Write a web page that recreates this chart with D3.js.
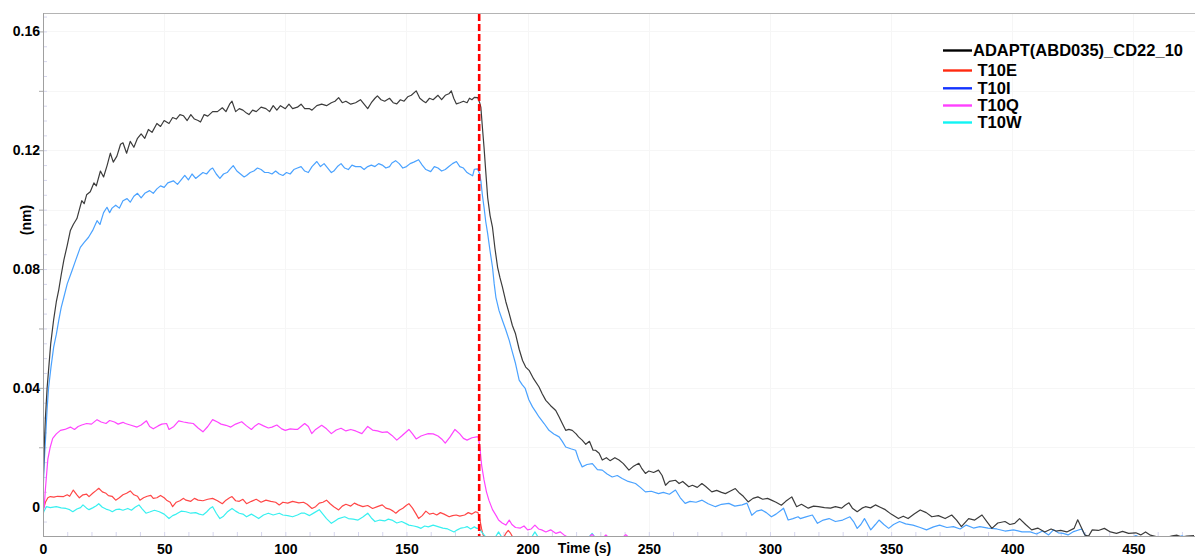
<!DOCTYPE html>
<html>
<head>
<meta charset="utf-8">
<title>Sensorgram</title>
<script src="https://cdn.jsdelivr.net/npm/d3@7"></script>
<style>
    html, body { margin: 0; padding: 0; background: #fff; }
    #chart svg { display: block; }
    #chart text { font-family: Arial, "Liberation Sans", sans-serif; font-weight: bold; fill: #000; }
</style>
</head>
<body>
<div id="chart"></div>
<script>
// Readings: [time (s), response (nm)]
const adaptTrace = [
    [0, 0.006], [0.5, 0.02], [1, 0.03], [1.7, 0.04], [2.5, 0.048], [3.2, 0.055], [4.4, 0.063], [5.5, 0.069],
    [6.5, 0.073], [7.5, 0.078], [8.6, 0.083], [10, 0.088], [11.3, 0.093], [12.5, 0.095], [14, 0.097], [15, 0.1],
    [16, 0.103], [17, 0.102], [18, 0.105], [19.5, 0.106], [21, 0.109], [22, 0.108], [23.7, 0.113], [25, 0.111],
    [26.5, 0.115], [27.8, 0.119], [29, 0.116], [30.5, 0.118], [32, 0.122], [33, 0.1225], [34.5, 0.119], [36, 0.123],
    [37.5, 0.121], [39, 0.124], [40.5, 0.1255], [42, 0.124], [43.5, 0.127], [45, 0.126], [47, 0.129], [48.5, 0.128],
    [50, 0.13], [52, 0.129], [53.5, 0.131], [55, 0.1305], [56.5, 0.132], [58, 0.1316], [59.5, 0.13], [61, 0.132],
    [62.5, 0.1305], [64, 0.13], [65, 0.1295], [66.5, 0.132], [68, 0.1315], [70, 0.133], [72, 0.133], [74, 0.1343],
    [75.5, 0.133], [77, 0.1355], [78, 0.1365], [79.5, 0.133], [81, 0.134], [82.5, 0.1335], [84, 0.1325], [85, 0.132],
    [86.5, 0.1335], [88, 0.133], [90, 0.1345], [92, 0.134], [93.5, 0.133], [95, 0.135], [96.5, 0.1335], [98, 0.135],
    [100, 0.134], [101.5, 0.1355], [103, 0.134], [105, 0.1345], [106.5, 0.1355], [108, 0.134], [110, 0.134], [111, 0.1335],
    [113, 0.135], [115, 0.1355], [117, 0.135], [119, 0.136], [120.5, 0.1365], [122, 0.1377], [123.5, 0.136], [125, 0.1365],
    [127, 0.1355], [129, 0.136], [131, 0.137], [132.5, 0.1355], [134, 0.134], [135.5, 0.136], [137, 0.1375], [138, 0.1383],
    [139.5, 0.137], [141, 0.1365], [143, 0.1375], [144.5, 0.136], [146, 0.1356], [147.5, 0.137], [149, 0.1365], [150.5, 0.138],
    [152, 0.1385], [154, 0.14], [155.5, 0.1375], [157, 0.1365], [158, 0.136], [159.5, 0.1375], [161, 0.137], [163, 0.1385],
    [164.5, 0.137], [166, 0.1385], [167.5, 0.139], [168.5, 0.14], [169.5, 0.1375], [170.6, 0.1356], [172, 0.136], [173.5, 0.1365],
    [175, 0.136], [176, 0.1375], [177, 0.137], [178, 0.1378], [179.4, 0.1377],
    [180.2, 0.136], [180.7, 0.1344], [181.3, 0.128], [182, 0.121], [182.7, 0.113], [183.5, 0.1041], [184.5, 0.098], [185.5, 0.094],
    [186.5, 0.087], [187.6, 0.0806], [188.6, 0.077], [189.6, 0.0739], [191, 0.069], [192.4, 0.065], [193.7, 0.061], [195, 0.0582],
    [196.5, 0.053], [197.9, 0.0492], [199.2, 0.047], [200.6, 0.0459], [202.5, 0.043], [204.7, 0.0403], [206, 0.038], [207.5, 0.0358],
    [209.5, 0.034], [211.6, 0.0324], [213, 0.0302], [214.3, 0.028], [215.7, 0.0257], [217, 0.026], [218.4, 0.0257], [220, 0.0245],
    [221, 0.0235], [222.5, 0.0224], [224, 0.021], [225.5, 0.022], [227, 0.019], [228, 0.019], [229.5, 0.018], [230.8, 0.0157],
    [232.5, 0.0165], [234, 0.0155], [236, 0.0165], [237.7, 0.0157], [239.5, 0.0145], [241.8, 0.0123], [243.5, 0.0135], [245.9, 0.0146],
    [247, 0.013], [248.6, 0.0112], [250, 0.012], [252, 0.0115], [254, 0.0123], [255.5, 0.0105], [256.9, 0.0072], [258.5, 0.0085],
    [261, 0.0089], [262.5, 0.0078], [264, 0.0085], [266.5, 0.0067], [268, 0.0072], [270, 0.0065], [271.9, 0.0078], [273.5, 0.0068],
    [276, 0.005], [278, 0.0055], [280, 0.0048], [281.6, 0.0044], [283.5, 0.0052], [285.7, 0.0061], [287.5, 0.0045], [289, 0.0035],
    [291, 0.0016], [293, 0.0028], [295, 0.0033], [297, 0.0025], [299, 0.0028], [300.6, 0.0022], [302.5, 0.0015], [304.7, 0.0005],
    [306.5, 0.0018], [309, 0.0033], [311, 0], [313, 0.0008], [315.8, -0.0005], [318, 0.0002], [320, 0], [322.5, -0.0003],
    [325, -0.0005], [327, 0], [329.6, -0.0005], [331, 0.0005], [332.6, 0.0013], [334, -0.0005], [336, -0.0017], [338, -0.0005],
    [339.4, 0], [341.5, -0.0004], [343.5, 0.0006], [345.5, -0.0002], [347.6, -0.001], [350, -0.0025], [353, -0.004], [355, -0.0032],
    [357, -0.004], [359.5, -0.0025], [362, -0.0011], [364.5, -0.002], [366.8, -0.0034], [369.5, -0.003], [372.3, -0.004], [375, -0.0028],
    [377, -0.0045], [379, -0.0067], [382, -0.004], [384.5, -0.0045], [387.5, -0.0028], [389.5, -0.005], [391.6, -0.0073], [394, -0.0055],
    [397, -0.005], [399, -0.006], [401, -0.0056], [403, -0.004], [405.5, -0.006], [408, -0.0078], [410.5, -0.0072], [413.4, -0.0085],
    [416, -0.0075], [418, -0.0082], [420, -0.008], [422.5, -0.0085], [425.5, -0.0073], [427, -0.0044], [428.5, -0.007], [430, -0.0096],
    [431.5, -0.0099], [433, -0.0078], [435.5, -0.008], [438, -0.0073], [440.5, -0.0085], [443, -0.009], [445.5, -0.0083], [448, -0.009],
    [451, -0.0088], [453, -0.0095], [455, -0.0085], [457, -0.0096], [460, -0.0102], [463, -0.0105], [466, -0.0098], [468, -0.0096],
    [470, -0.0102], [472, -0.0099], [475, -0.0097]
];

const t10eTrace = [
    [0, -0.0005], [0.5, 0], [1, 0.0015], [2, 0.003], [3, 0.0034], [4.5, 0.0032], [6, 0.0035], [8.5, 0.0034],
    [10, 0.004], [11, 0.0035], [12.5, 0.0056], [14, 0.004], [15, 0.003], [16.5, 0.004], [18, 0.0042], [19, 0.0034],
    [20.5, 0.0045], [22, 0.0055], [23, 0.0062], [24.5, 0.005], [26, 0.0045], [27, 0.0037], [28.5, 0.0035], [30, 0.0022],
    [31.5, 0.003], [33, 0.004], [34.5, 0.0045], [36, 0.0053], [37.5, 0.004], [39, 0.0035], [40, 0.0022], [41.5, 0.003],
    [43, 0.0035], [44.5, 0.0038], [45.5, 0.0028], [47, 0.003], [48.5, 0.0038], [50, 0.003], [51, 0.0022], [52.5, 0.0015],
    [53.5, 0], [55, 0.0015], [56.5, 0.002], [58, 0.0028], [59, 0.0022], [61, 0.0018], [62.5, 0.0028], [64, 0.0022],
    [66, 0.002], [68, 0.0025], [70, 0.0028], [72, 0.002], [74, 0.001], [75.5, 0.0022], [77, 0.003], [78, 0.0034],
    [79.5, 0.002], [81, 0.0018], [82.5, 0.0025], [84, 0.001], [86, 0.0018], [88, 0.0025], [90, 0.0015], [92, 0.0022],
    [94, 0.0018], [96, 0.0015], [97.5, 0.0006], [99, 0.0015], [101, 0.0012], [103, 0.0018], [105.6, 0.0013], [107.5, 0.0015],
    [109, 0.0008], [111, -0.0006], [112.5, 0], [114, 0.0012], [115.5, 0.0015], [117, 0.0022], [118.5, 0.001], [120, 0],
    [122, -0.0011], [123.5, 0.0002], [125, 0.0008], [127, 0.0002], [128.5, 0.0012], [130, 0.0006], [132, 0], [134, 0.0004],
    [136, -0.0006], [138, 0], [140, 0.0006], [141.5, -0.0005], [143, -0.0008], [144.5, -0.0015], [145.6, -0.0022], [147, -0.0012],
    [148.5, -0.0005], [150, 0.0005], [151, 0.001], [152.5, -0.0005], [154, -0.0025], [155, -0.004], [156.5, -0.003], [158, -0.0015],
    [159.5, -0.0025], [161, -0.0022], [162.5, -0.0028], [164, -0.002], [165.5, -0.0025], [167.6, -0.0034], [169, -0.003], [170.5, -0.0028],
    [172, -0.0032], [174, -0.0028], [175.5, -0.002], [177, -0.0025], [178.5, -0.0017], [179.5, -0.002],
    [180.2, -0.004], [181, -0.0075], [181.6, -0.0095], [182.5, -0.0105], [190, -0.0105], [191, -0.009], [192, -0.008], [193, -0.009],
    [194, -0.0105], [475, -0.0105]
];

const t10iTrace = [
    [0, 0.004], [0.5, 0.015], [1, 0.022], [1.7, 0.033], [2.3, 0.04], [3.3, 0.047], [4.4, 0.0537], [5.5, 0.058],
    [6.5, 0.0627], [7.5, 0.067], [8.6, 0.0705], [10, 0.075], [12, 0.0795], [13.5, 0.083], [15.4, 0.0873], [17, 0.089],
    [18.8, 0.0907], [20.5, 0.093], [22.3, 0.0963], [23.5, 0.095], [25, 0.099], [26.4, 0.1008], [27.5, 0.099], [28.5, 0.1005],
    [30, 0.1015], [31.5, 0.1005], [33, 0.103], [34.7, 0.1037], [36, 0.1025], [37.5, 0.1045], [39, 0.1055], [40.5, 0.104],
    [42, 0.1055], [44, 0.1064], [45.5, 0.1055], [47, 0.107], [48.5, 0.108], [50, 0.1075], [51.5, 0.109], [53.8, 0.1097],
    [55.5, 0.1085], [57, 0.11], [58.5, 0.1115], [60, 0.11], [61.5, 0.112], [63, 0.1105], [64.5, 0.1115], [66, 0.1125],
    [67.5, 0.112], [69, 0.1135], [70, 0.114], [71.5, 0.112], [73, 0.1105], [74.5, 0.112], [76, 0.1125], [77, 0.1135],
    [78.5, 0.1148], [80, 0.113], [81.5, 0.112], [83, 0.111], [84, 0.1115], [85.5, 0.1125], [87, 0.113], [88.5, 0.114],
    [90, 0.1135], [91.5, 0.1125], [93, 0.1125], [94.5, 0.112], [96, 0.113], [97.5, 0.112], [99, 0.1115], [100.5, 0.1125],
    [102, 0.112], [103.5, 0.1135], [105, 0.114], [106.5, 0.1145], [108, 0.113], [109.5, 0.1125], [111, 0.1145], [113, 0.1162],
    [114.5, 0.1145], [116, 0.1155], [117.5, 0.114], [119, 0.1125], [120, 0.113], [121.5, 0.1145], [123, 0.1155], [124.5, 0.114],
    [126, 0.1135], [127.5, 0.115], [129, 0.1145], [131, 0.1145], [132.5, 0.1135], [134, 0.1145], [135.5, 0.115], [137, 0.1145],
    [138.5, 0.1155], [140, 0.115], [141.5, 0.114], [143, 0.1145], [144, 0.1157], [145.5, 0.1165], [147, 0.1155], [148.5, 0.114],
    [150, 0.1145], [151.5, 0.1155], [153, 0.116], [155, 0.1168], [156.5, 0.115], [158, 0.1135], [160, 0.1128], [161.5, 0.1145],
    [163, 0.114], [164.5, 0.113], [166, 0.1135], [167.5, 0.1145], [169, 0.1155], [170.6, 0.1162], [172, 0.1145], [173.5, 0.114],
    [175, 0.1125], [176, 0.112], [177.3, 0.1114], [178, 0.1136], [179.4, 0.1137],
    [180.2, 0.112], [180.7, 0.1097], [181.3, 0.105], [182, 0.1008], [182.7, 0.096], [183.5, 0.0919], [184.5, 0.086], [185.5, 0.0806],
    [186.2, 0.075], [186.9, 0.0705], [188.2, 0.066], [189.6, 0.0627], [191, 0.0595], [192.4, 0.056], [193.7, 0.052], [195, 0.0482],
    [196.5, 0.0426], [197.8, 0.041], [199, 0.0398], [200.5, 0.036], [202, 0.0336], [203.3, 0.032], [204.7, 0.0302], [206.8, 0.028],
    [208.8, 0.0257], [210.8, 0.0245], [213, 0.0235], [214.3, 0.022], [215.7, 0.0201], [217.8, 0.0195], [219.8, 0.019], [221, 0.016],
    [222.5, 0.0134], [224.5, 0.0142], [226.7, 0.0145], [228.8, 0.0125], [230.8, 0.0123], [232.8, 0.011], [234.9, 0.01], [237, 0.0105],
    [239, 0.0095], [241.5, 0.0085], [244.5, 0.0078], [246.5, 0.0065], [248.6, 0.005], [251, 0.0052], [254, 0.0044], [256, 0.0048],
    [258.5, 0.0042], [261, 0.0056], [263, 0.003], [265, 0.0011], [267, 0.0018], [269.5, 0.0015], [272, 0.0022], [274.5, 0.001],
    [277.5, 0], [280, 0.0008], [283, 0.0011], [285.5, 0.0002], [288.5, 0.0006], [290.5, 0.0012], [292.5, -0.0029], [294.5, -0.0015],
    [296.6, -0.0011], [298.5, -0.002], [300.6, -0.0034], [302.5, -0.0025], [304.7, -0.0011], [305.6, -0.0005], [307.5, -0.0045], [309.5, -0.004],
    [311.6, -0.0034], [312.5, -0.004], [314.5, -0.0035], [317.5, -0.0028], [319.6, -0.0056], [322, -0.0045], [324.4, -0.004], [327, -0.005],
    [330, -0.0045], [333, -0.0034], [334.5, -0.005], [336, -0.0073], [337.5, -0.006], [339, -0.004], [341.6, -0.0078], [343.5, -0.006],
    [345, -0.0045], [347, -0.006], [349, -0.0073], [351, -0.006], [353.5, -0.005], [356, -0.0058], [359, -0.0062], [362, -0.007],
    [364.6, -0.0078], [367.5, -0.0068], [370, -0.0062], [373, -0.007], [375.7, -0.0067], [378.5, -0.0075], [381, -0.0062], [384, -0.0072],
    [386.6, -0.0067], [390, -0.0072], [393.6, -0.0075], [397, -0.0082], [400.5, -0.0078], [404, -0.0085], [407.4, -0.0085], [410, -0.0092],
    [412.5, -0.0082], [415, -0.0095], [417, -0.0078], [419, -0.0088], [421, -0.009], [423, -0.0095], [425, -0.0085], [428.6, -0.0075],
    [430, -0.0095], [432, -0.0105], [449, -0.0105], [451, -0.0097], [453, -0.0105], [468, -0.0105], [470, -0.0098], [472, -0.0105],
    [475, -0.0105]
];

const t10qTrace = [
    [0, -0.002], [0.5, 0], [1, 0.006], [1.5, 0.011], [2, 0.016], [3, 0.0201], [4, 0.023], [5.5, 0.0245],
    [7.2, 0.0257], [9, 0.026], [11.3, 0.0268], [13, 0.026], [14.5, 0.027], [16, 0.0275], [18, 0.028], [20, 0.0278],
    [22.3, 0.0293], [24, 0.0285], [26, 0.028], [27.5, 0.029], [29.5, 0.0285], [31, 0.0278], [33, 0.0284], [34, 0.028],
    [36, 0.0275], [38.8, 0.0268], [40.5, 0.0275], [42.7, 0.0289], [44, 0.027], [45.5, 0.0262], [47.5, 0.0272], [49, 0.0278],
    [51, 0.028], [52, 0.026], [54, 0.027], [56, 0.0289], [58, 0.0285], [60, 0.0282], [62, 0.028], [64, 0.0265],
    [66, 0.0252], [68, 0.027], [70, 0.0293], [72, 0.0285], [73.5, 0.0278], [75.5, 0.0274], [77.5, 0.0268], [79.5, 0.0278],
    [82, 0.0286], [84, 0.0272], [86, 0.026], [87.5, 0.0272], [89, 0.028], [91, 0.0272], [93, 0.0265], [94.5, 0.0268],
    [96.5, 0.0275], [98.5, 0.0262], [100, 0.0257], [102, 0.0262], [104, 0.026], [105, 0.026], [106.5, 0.027], [108, 0.028],
    [109.5, 0.027], [110.9, 0.0246], [112.5, 0.026], [115, 0.0274], [117, 0.0262], [119, 0.0246], [121, 0.0258], [123, 0.0264],
    [125, 0.0255], [127, 0.026], [129, 0.0255], [131.6, 0.0246], [134, 0.027], [136, 0.0258], [138, 0.0255], [140, 0.025],
    [142, 0.0252], [144, 0.024], [146, 0.0224], [148, 0.0238], [151, 0.026], [152.5, 0.0245], [154, 0.0228], [156, 0.0238],
    [157.5, 0.0242], [159, 0.0246], [161, 0.0245], [163, 0.0238], [164.5, 0.0228], [166, 0.0214], [168, 0.0235], [170, 0.026],
    [172, 0.0245], [173.5, 0.023], [175, 0.0224], [177, 0.0232], [179, 0.0235], [179.6, 0.0235],
    [180.3, 0.02], [181, 0.014], [182, 0.009], [183, 0.005], [184, 0.0022], [185.5, -0.001], [187, -0.003], [188, -0.0045],
    [189.5, -0.0055], [191, -0.0062], [192.4, -0.0045], [193.5, -0.006], [195, -0.007], [197, -0.0072], [198.5, -0.0065], [200, -0.0078],
    [201.5, -0.0075], [203, -0.0062], [204.5, -0.0075], [205.8, -0.0078], [207.5, -0.0085], [209.5, -0.0078], [211.7, -0.009], [213.5, -0.0085],
    [215, -0.0095], [217, -0.0105], [225, -0.0105], [226.6, -0.0093], [228, -0.0105], [231, -0.0105], [232.3, -0.0095], [233.5, -0.0105],
    [239, -0.0105], [240.5, -0.0094], [242, -0.0105], [475, -0.0105]
];

const t10wTrace = [
    [0, -0.003], [0.3, -0.0017], [1.4, 0], [3, -0.0003], [5.5, 0], [7.5, -0.0004], [9.5, -0.0006], [11, -0.001],
    [12.3, -0.0017], [14, -0.0008], [15.5, -0.0003], [16.5, 0.0006], [18, -0.0005], [19, -0.001], [20.5, -0.0004], [22, 0.0003],
    [23, 0.001], [24.5, -0.0002], [26, -0.0008], [27.5, -0.0012], [28.6, -0.0017], [30, -0.001], [31.5, -0.0008], [33, -0.0012],
    [35, -0.0006], [36.5, -0.0012], [38, -0.0002], [39.6, 0.0006], [41, -0.0008], [42.5, -0.0022], [44, -0.0018], [46, -0.0012],
    [48, -0.0017], [50, -0.0025], [52, -0.004], [53.5, -0.003], [55, -0.0025], [57, -0.0015], [59, -0.0017], [61, -0.0022],
    [63, -0.002], [64.5, -0.0025], [66, -0.0028], [67.5, -0.0018], [69, -0.0005], [70, 0], [71.5, -0.0022], [73, -0.004],
    [74.5, -0.0032], [76, -0.0018], [78, -0.0006], [79.5, -0.0015], [81, -0.0022], [82.5, -0.0025], [84, -0.0034], [86, -0.0025],
    [87.5, -0.0032], [89, -0.004], [91, -0.0028], [93, -0.0022], [95, -0.0028], [97.5, -0.0022], [99, -0.0028], [101, -0.003],
    [103, -0.0034], [105, -0.0028], [106.5, -0.0022], [108, -0.0022], [110, -0.003], [112, -0.002], [114, -0.001], [115.5, -0.0025],
    [117, -0.004], [119, -0.0056], [120.5, -0.0048], [122, -0.004], [124.5, -0.0034], [126, -0.004], [128, -0.0042], [130, -0.0045],
    [132, -0.0035], [134, -0.0022], [135.5, -0.0038], [137, -0.005], [139, -0.0045], [141, -0.0048], [142.5, -0.0042], [144, -0.0045],
    [146, -0.0055], [148, -0.005], [150, -0.0058], [151, -0.0062], [153, -0.0065], [154.5, -0.0068], [156, -0.0073], [157.5, -0.0065],
    [159, -0.0068], [161, -0.0062], [163, -0.0067], [165, -0.0072], [167, -0.0075], [169.6, -0.0085], [171, -0.0078], [172.5, -0.0072],
    [174, -0.007], [175, -0.0067], [176.5, -0.0075], [178, -0.0068], [179, -0.0073], [180, -0.0073],
    [181, -0.0085], [182, -0.0095], [183, -0.0105], [186.5, -0.0105], [188, -0.0085], [189.5, -0.0105], [201.5, -0.0105], [203, -0.0085],
    [204.5, -0.0105], [225, -0.0105], [226.6, -0.009], [228, -0.0105], [475, -0.0105]
];

const seriesNames = ["ADAPT(ABD035)_CD22_10", "T10E", "T10I", "T10Q", "T10W"];
const seriesTraces = [adaptTrace, t10eTrace, t10iTrace, t10qTrace, t10wTrace];

// Axis ticks and labels
const xTickValues = [0, 50, 100, 150, 200, 250, 300, 350, 400, 450];
const xTickLabels = ["0", "50", "100", "150", "200", "250", "300", "350", "400", "450"];
const yTickValues = [0, 0.04, 0.08, 0.12, 0.16];
const yTickLabels = ["0", "0.04", "0.08", "0.12", "0.16"];
const injectionEnd = 180; // dashed marker, s

document.addEventListener("DOMContentLoaded", function () {
    const width = 1195;
    const height = 557;
    const plot = { left: 43, top: 13, right: 1195, bottom: 536 };

    const traceColors = ["#3c3c3c", "#ff4646", "#4aa2ff", "#ff44ff", "#38f0f0"];
    const legendColors = ["#000000", "#ff2a10", "#1434ff", "#ff40ff", "#10f4f4"];

    const svg = d3.select("#chart")
        .append("svg")
        .attr("width", width)
        .attr("height", height);

    const x = d3.scaleLinear()
        .domain([0, 475.4])
        .range([plot.left, plot.right]);

    const y = d3.scaleLinear()
        .domain([-0.00987, 0.1662])
        .range([plot.bottom, plot.top]);

    // faint grid
    const grid = svg.append("g").attr("stroke", "#f6f6f6").attr("stroke-width", 1);
    grid.selectAll(".gx")
        .data(xTickValues.slice(1))
        .join("line")
        .attr("x1", d => Math.round(x(d)) + 0.5)
        .attr("x2", d => Math.round(x(d)) + 0.5)
        .attr("y1", plot.top)
        .attr("y2", plot.bottom);
    grid.selectAll(".gy")
        .data(d3.range(0.02, 0.161, 0.02))
        .join("line")
        .attr("x1", plot.left)
        .attr("x2", plot.right)
        .attr("y1", d => Math.round(y(d)) + 0.5)
        .attr("y2", d => Math.round(y(d)) + 0.5);

    // minor ticks, inside the frame
    const minorX = d3.axisTop(x)
        .tickValues(d3.range(10, 475, 10))
        .tickSize(4)
        .tickFormat("");
    svg.append("g")
        .attr("transform", `translate(0,${plot.bottom})`)
        .call(minorX)
        .call(g => g.select(".domain").remove())
        .call(g => g.selectAll("line").attr("stroke", "#d6d6ee"));

    const minorY = d3.axisRight(y)
        .tickValues(d3.range(-0.005, 0.1655, 0.005))
        .tickSize(4)
        .tickFormat("");
    svg.append("g")
        .attr("transform", `translate(${plot.left},0)`)
        .call(minorY)
        .call(g => g.select(".domain").remove())
        .call(g => g.selectAll("line").attr("stroke", "#d6d6ee"));

    // outward ticks every 0.02
    const midY = d3.axisLeft(y)
        .tickValues(d3.range(0.02, 0.161, 0.02))
        .tickSize(4)
        .tickFormat("");
    svg.append("g")
        .attr("transform", `translate(${plot.left},0)`)
        .call(midY)
        .call(g => g.select(".domain").remove())
        .call(g => g.selectAll("line").attr("stroke", "#aaaaaa"));

    // labelled axes
    const xAxis = d3.axisBottom(x)
        .tickValues(xTickValues)
        .tickSize(0)
        .tickPadding(8)
        .tickFormat((d, i) => xTickLabels[i]);
    svg.append("g")
        .attr("transform", `translate(0,${plot.bottom})`)
        .call(xAxis)
        .call(g => g.select(".domain").remove())
        .call(g => g.selectAll("text")
            .attr("font-size", 14)
            .attr("font-family", null)
            .attr("fill", "#000"));

    const yAxis = d3.axisLeft(y)
        .tickValues(yTickValues)
        .tickSize(0)
        .tickPadding(3)
        .tickFormat((d, i) => yTickLabels[i]);
    svg.append("g")
        .attr("transform", `translate(${plot.left},0)`)
        .call(yAxis)
        .call(g => g.select(".domain").remove())
        .call(g => g.selectAll("text")
            .attr("font-size", 14)
            .attr("font-family", null)
            .attr("fill", "#000"));

    // frame
    svg.append("line")
        .attr("x1", plot.left).attr("x2", plot.right)
        .attr("y1", plot.top + 0.5).attr("y2", plot.top + 0.5)
        .attr("stroke", "#b4b4b4");
    svg.append("line")
        .attr("x1", plot.left + 0.5).attr("x2", plot.left + 0.5)
        .attr("y1", plot.top).attr("y2", plot.bottom)
        .attr("stroke", "#a0a0a0");
    svg.append("line")
        .attr("x1", plot.left).attr("x2", plot.right)
        .attr("y1", plot.bottom + 0.5).attr("y2", plot.bottom + 0.5)
        .attr("stroke", "#a0a0a0");

    // titles
    svg.append("text")
        .attr("x", x(223.5))
        .attr("y", 553)
        .attr("text-anchor", "middle")
        .attr("font-size", 14)
        .text("Time (s)");

    svg.append("text")
        .attr("transform", "translate(31,220) rotate(-90)")
        .attr("text-anchor", "middle")
        .attr("font-size", 14)
        .text("(nm)");

    // traces
    svg.append("clipPath")
        .attr("id", "plot-clip")
        .append("rect")
        .attr("x", plot.left + 1)
        .attr("y", plot.top)
        .attr("width", plot.right - plot.left)
        .attr("height", plot.bottom - plot.top);

    const line = d3.line()
        .x(d => x(d[0]))
        .y(d => y(d[1]));

    const drawOrder = [1, 4, 3, 2, 0];
    svg.append("g")
        .attr("clip-path", "url(#plot-clip)")
        .selectAll("path")
        .data(drawOrder)
        .join("path")
        .attr("d", i => line(seriesTraces[i]))
        .attr("fill", "none")
        .attr("stroke", i => traceColors[i])
        .attr("stroke-width", 1.2)
        .attr("stroke-linejoin", "round");

    // end of association marker
    svg.append("line")
        .attr("x1", x(injectionEnd)).attr("x2", x(injectionEnd))
        .attr("y1", plot.top + 1).attr("y2", plot.bottom)
        .attr("stroke", "#ff0000")
        .attr("stroke-width", 2.6)
        .attr("stroke-dasharray", "7,3");

    // legend
    const legendRowY = [50.5, 70.5, 88.3, 105.5, 122.5];
    const legend = svg.append("g");
    const rows = legend.selectAll("g")
        .data(seriesNames)
        .join("g")
        .attr("transform", (_, i) => `translate(0,${legendRowY[i]})`);
    rows.append("line")
        .attr("x1", 943).attr("x2", 972)
        .attr("stroke", (_, i) => legendColors[i])
        .attr("stroke-width", 2.4);
    rows.append("text")
        .attr("x", (_, i) => i === 0 ? 973 : 977.5)
        .attr("dy", "0.36em")
        .attr("font-size", 16.5)
        .text(d => d);
});
</script>
</body>
</html>
